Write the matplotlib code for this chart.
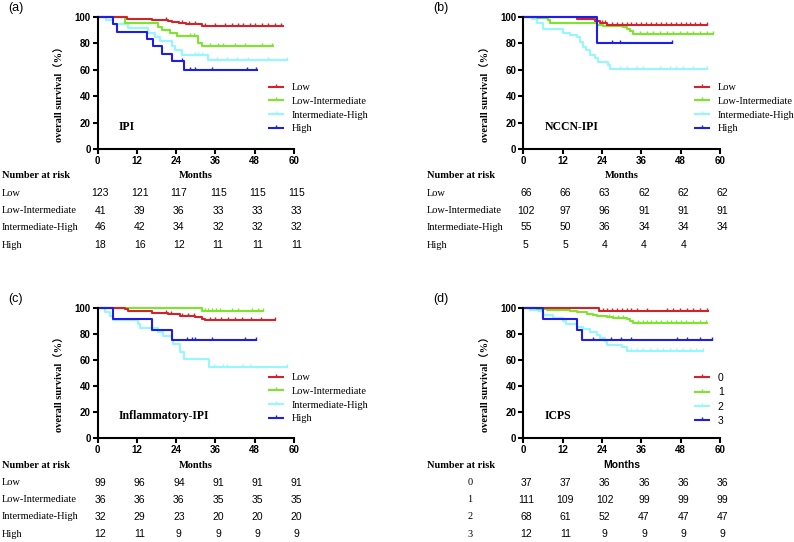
import numpy as np
import matplotlib.pyplot as plt
from matplotlib.lines import Line2D
from matplotlib import transforms

# colores de los grupos (low, low-int, int-high, high)
colors = ['#d2232a', '#7ce62a', '#96f8ff', '#1e1ee6']
group_names = ['Low', 'Low-Intermediate', 'Intermediate-High', 'High']
icps_names = ['0', '1', '2', '3']
risk_months = [0, 12, 24, 36, 48, 60]

# (a) IPI  -- tiempos de los escalones, supervivencia (%), fin de seguimiento, censuras
ipi_low_t = [0, 9, 16.5, 21.5, 22.6, 25, 27, 32]
ipi_low_s = [100, 98.4, 97.6, 96.8, 96.0, 95.2, 94.4, 93.5]
ipi_low_end = 56.5
ipi_low_cens = [21, 25.7, 28, 29.7, 32.8, 36, 38.9, 40.9, 43, 44.5, 46.5, 48.1, 50.1, 52.1, 54.2, 56]
ipi_lowint_t = [0, 8.4, 18.5, 19.6, 22.1, 24.1, 30.7, 31.8]
ipi_lowint_s = [100, 95.1, 92.7, 90.2, 87.8, 85.4, 80.5, 78.0]
ipi_lowint_end = 53.7
ipi_lowint_cens = [28.2, 29.5, 34.3, 36.8, 38.3, 42, 45, 50.1, 53.2]
ipi_inthigh_t = [0, 2.5, 4.8, 9.3, 15.4, 17.5, 19, 22.6, 23.6, 25.7, 33.8]
ipi_inthigh_s = [100, 97.8, 94.6, 91.4, 88.2, 85.0, 81.5, 77.8, 75.1, 71.5, 67.6]
ipi_inthigh_end = 57.8
ipi_inthigh_cens = [29.7, 30.7, 31.8, 36.4, 39.4, 42.5, 46, 52, 57.8]
ipi_high_t = [0, 4.8, 5.8, 15, 17, 19.6, 22.6, 26.5]
ipi_high_s = [100, 94.4, 88.9, 83.3, 77.8, 72.2, 66.7, 60.2]
ipi_high_end = 48.6
ipi_high_cens = [25.7, 28.2, 29.7, 34.8, 45.5, 48.4]
ipi_risk = [[123, 121, 117, 115, 115, 115],
            [41, 39, 36, 33, 33, 33],
            [46, 42, 34, 32, 32, 32],
            [18, 16, 12, 11, 11, 11]]

# (b) NCCN-IPI
nccn_low_t = [0, 16.3, 22, 23.4, 25.4]
nccn_low_s = [100, 98.5, 97.0, 95.5, 93.9]
nccn_low_end = 56
nccn_low_cens = [24, 25, 27, 28.5, 30, 31.5, 33, 34.5, 36, 37.5, 39, 40.5, 42, 43.5, 45, 46.5,
                 48, 49.5, 51, 52.5, 54, 56]
nccn_lowint_t = [0, 4.1, 7.5, 8.1, 22.4, 24.3, 30.4, 31.5, 32.5, 33.6]
nccn_lowint_s = [100, 99.0, 98.0, 95.1, 94.1, 93.1, 92.1, 91.1, 89.1, 87.2]
nccn_lowint_end = 57.8
nccn_lowint_cens = [35.6, 37.6, 39.6, 41.7, 43.7, 45.7, 47.7, 49.8, 51.8, 53.8, 55.9, 57.8]
nccn_inthigh_t = [0, 2.6, 4.1, 6.1, 12.2, 14.2, 16.3, 17.3, 18.3, 19, 20.3, 21.9, 22.9, 25.9, 26.5]
nccn_inthigh_s = [100, 98.2, 95.2, 90.6, 87.6, 86.1, 84.6, 81.3, 77.5, 75, 71.2, 68.7, 66.2, 63.6, 60.4]
nccn_inthigh_end = 56
nccn_inthigh_cens = [29.5, 31.5, 34.6, 36.6, 41.7, 44.7, 46.7, 48.8, 51.8, 56]
nccn_high_t = [0, 22.6]
nccn_high_s = [100, 80]
nccn_high_end = 45.3
nccn_high_cens = [27, 29.5, 45.3]
nccn_risk = [[66, 66, 63, 62, 62, 62],
             [102, 97, 96, 91, 91, 91],
             [55, 50, 36, 34, 34, 34],
             [5, 5, 4, 4, 4]]

# (c) Inflammatory-IPI
infl_low_t = [0, 8.3, 9.4, 16.5, 21.6, 25.2, 29.7, 31.8, 32.8]
infl_low_s = [100, 99, 97.2, 96.1, 95.0, 93.9, 92.8, 91.6, 90.4]
infl_low_end = 54.2
infl_low_cens = [21, 22.5, 25.7, 27.5, 29.5, 34.3, 35.8, 37.8, 39.9, 41.9, 44, 47, 50, 54.2]
infl_lowint_t = [0, 31.8]
infl_lowint_s = [100, 97.2]
infl_lowint_end = 50.6
infl_lowint_cens = [32.8, 33.8, 34.8, 36.3, 37.4, 41, 43, 47.1, 49.1, 50.6]
infl_inthigh_t = [0, 2.2, 3.8, 4.8, 12.4, 12.9, 18.5, 20, 22.6, 23, 25.2, 26.5, 34.1]
infl_inthigh_s = [100, 96.9, 93.8, 90.6, 87.5, 84.4, 81.3, 78.1, 75, 71.9, 66.4, 60.5, 54.8]
infl_inthigh_end = 57.8
infl_inthigh_cens = [35.5, 38.4, 39.4, 44.5, 46.5, 57.8]
infl_high_t = [0, 4.8, 16.5, 22.6]
infl_high_s = [100, 91.7, 83.3, 75]
infl_high_end = 48.4
infl_high_cens = [27.2, 28.7, 29.7, 34.8, 45, 48.4]
infl_risk = [[99, 96, 94, 91, 91, 91],
             [36, 36, 36, 35, 35, 35],
             [32, 29, 23, 20, 20, 20],
             [12, 11, 9, 9, 9, 9]]

# (d) ICPS
icps_0_t = [0, 23.2]
icps_0_s = [100, 97.3]
icps_0_end = 56.2
icps_0_cens = [24.4, 25.4, 27, 28.5, 30, 31.5, 33, 34.6, 37.6, 43.7, 45.7, 47.8, 49.8, 51.8, 53.8, 56]
icps_1_t = [0, 4.1, 7.1, 14.2, 16.3, 19.3, 21.4, 22.4, 25.4, 27.5, 31.5, 32.5, 33.6]
icps_1_s = [100, 99.1, 98.2, 97.3, 96.4, 95.5, 94.6, 93.7, 92.8, 91.9, 91.0, 90.1, 88.3]
icps_1_end = 56
icps_1_cens = [26, 27.5, 29, 30.5, 35.1, 36.6, 37.6, 39.1, 40.6, 42.1, 43.7, 45.2, 46.7, 48.2,
               49.7, 51.8, 53.8, 55.6]
icps_2_t = [0, 2, 4.5, 6.1, 9.2, 12.2, 13, 16.3, 18.3, 20.3, 22.4, 23.4, 24.9, 25.4, 30, 31.5]
icps_2_s = [100, 98.5, 97.1, 94.1, 91.9, 89.7, 87.5, 85.3, 83.8, 81.6, 79.4, 76.5, 74.3, 71.3, 69.6, 66.9]
icps_2_end = 54.9
icps_2_cens = [31.5, 33, 34.6, 36.6, 38.6, 40.7, 42.7, 44.7, 46.7, 48.8, 50.8, 52.8, 54.9]
icps_3_t = [0, 6.1, 16.3, 17.8]
icps_3_s = [100, 91.7, 83.3, 75]
icps_3_end = 57.5
icps_3_cens = [21.2, 26.8, 29.8, 32.9, 46.8, 50, 53.9, 57.5]
icps_risk = [[37, 37, 36, 36, 36, 36],
             [111, 109, 102, 99, 99, 99],
             [68, 61, 52, 47, 47, 47],
             [12, 11, 9, 9, 9, 9]]

W, H = 794, 542
serif = ['Liberation Serif', 'DejaVu Serif']
sans = ['Liberation Sans', 'DejaVu Sans']
# marca de censura: palito hacia arriba desde la curva
tick_up = [(0, 0), (0, 1)]

fig = plt.figure(figsize=(W / 100, H / 100), dpi=100)


def px(x, y):
    # pixeles -> fraccion de figura
    return x / W, 1 - y / H


def draw_panel(left, bottom, width, height, curves, names, title, risk, row_names,
               panel, label_x, centered_rows=False, months_font=serif):
    ax = fig.add_axes([left / W, 1 - bottom / H, width / W, height / H])
    # orden de dibujo: int-high, low-int, low, high
    for k in [2, 1, 0, 3]:
        t, s, end, cens = curves[k]
        xs = list(t) + [end]
        ys = list(s) + [s[-1]]
        ax.step(xs, ys, where='post', color=colors[k], lw=1.5, clip_on=False)
        idx = np.searchsorted(t, cens, side='right') - 1
        ax.plot(cens, np.array(s)[idx], ls='none', marker=tick_up, ms=4.5, mew=1.0,
                color=colors[k], clip_on=False)

    ax.set_xlim(0, 60)
    ax.set_ylim(0, 100)
    ax.set_xticks(risk_months)
    ax.set_yticks([0, 20, 40, 60, 80, 100])
    for side in ['top', 'right']:
        ax.spines[side].set_visible(False)
    for side in ['left', 'bottom']:
        ax.spines[side].set_linewidth(1.5)
    ax.tick_params(length=3.5, width=1.5, pad=1.5)
    for lab in ax.get_xticklabels() + ax.get_yticklabels():
        lab.set_fontfamily(sans)
        lab.set_fontweight('bold')
        lab.set_fontsize(7)

    handles = [Line2D([0], [0], color=c, lw=1.5, marker=tick_up, ms=4.5, mew=1.0) for c in colors]
    leg_font = serif if names[0] == 'Low' else sans
    ax.legend(handles, names, loc='upper left', bbox_to_anchor=(0.873, 0.50), frameon=False,
              borderpad=0, borderaxespad=0, handlelength=1.35, handletextpad=0.85,
              labelspacing=0.42, numpoints=1, prop={'family': leg_font, 'size': 7.5})

    ax.text(0.108, 0.167, title, transform=ax.transAxes, ha='left', va='center',
            fontfamily=serif, fontweight='bold', fontsize=8.5)

    # etiquetas de panel y eje y
    fig.text(*px(8, bottom - height - 8.5), panel, ha='left', va='center',
             fontfamily=sans, fontsize=9)
    fig.text(*px(left - 37.7, bottom - 57), 'overall survival（%）', rotation=90,
             ha='center', va='center', fontfamily=serif + ['Noto Sans CJK SC'],
             fontweight='bold', fontsize=7.5)

    # tabla de numero en riesgo
    blend = transforms.blended_transform_factory(ax.transData, fig.transFigure)
    fig.text(*px(label_x, bottom + 26.7), 'Number at risk', ha='left', va='center',
             fontfamily=serif, fontweight='bold', fontsize=7.5)
    ax.text(30, 1 - (bottom + 26.7) / H, 'Months', transform=blend, ha='center', va='center',
            fontfamily=months_font, fontweight='bold', fontsize=7.5)
    row_offsets = [44.3, 61.5, 78.2, 96]
    for i, row in enumerate(risk):
        yy = bottom + row_offsets[i]
        if centered_rows:
            fig.text(*px(470, yy), row_names[i], ha='center', va='center',
                     fontfamily=serif, fontsize=7.5)
        else:
            fig.text(*px(label_x, yy), row_names[i], ha='left', va='center',
                     fontfamily=serif, fontsize=7.5)
        for m, n in zip(risk_months, row):
            ax.text(m + 0.8, 1 - yy / H, str(n), transform=blend, ha='center', va='center',
                    fontfamily=sans, fontsize=7.5)
    return ax


ipi_curves = [(ipi_low_t, ipi_low_s, ipi_low_end, ipi_low_cens),
              (ipi_lowint_t, ipi_lowint_s, ipi_lowint_end, ipi_lowint_cens),
              (ipi_inthigh_t, ipi_inthigh_s, ipi_inthigh_end, ipi_inthigh_cens),
              (ipi_high_t, ipi_high_s, ipi_high_end, ipi_high_cens)]
nccn_curves = [(nccn_low_t, nccn_low_s, nccn_low_end, nccn_low_cens),
               (nccn_lowint_t, nccn_lowint_s, nccn_lowint_end, nccn_lowint_cens),
               (nccn_inthigh_t, nccn_inthigh_s, nccn_inthigh_end, nccn_inthigh_cens),
               (nccn_high_t, nccn_high_s, nccn_high_end, nccn_high_cens)]
infl_curves = [(infl_low_t, infl_low_s, infl_low_end, infl_low_cens),
               (infl_lowint_t, infl_lowint_s, infl_lowint_end, infl_lowint_cens),
               (infl_inthigh_t, infl_inthigh_s, infl_inthigh_end, infl_inthigh_cens),
               (infl_high_t, infl_high_s, infl_high_end, infl_high_cens)]
icps_curves = [(icps_0_t, icps_0_s, icps_0_end, icps_0_cens),
               (icps_1_t, icps_1_s, icps_1_end, icps_1_cens),
               (icps_2_t, icps_2_s, icps_2_end, icps_2_cens),
               (icps_3_t, icps_3_s, icps_3_end, icps_3_cens)]

draw_panel(97.7, 149, 196.3, 132, ipi_curves, group_names, 'IPI', ipi_risk, group_names,
           '(a)', 2)
draw_panel(523.3, 149, 196.7, 132, nccn_curves, group_names, 'NCCN-IPI', nccn_risk,
           group_names, '(b)', 426.7)
draw_panel(97.7, 438.3, 196.3, 130.6, infl_curves, group_names, 'Inflammatory-IPI', infl_risk,
           group_names, '(c)', 2)
draw_panel(523.3, 438.3, 196.7, 130.6, icps_curves, icps_names, 'ICPS', icps_risk, icps_names,
           '(d)', 426.7, centered_rows=True, months_font=sans)

# las etiquetas (b) y (d) van a la derecha
for t in fig.texts:
    if t.get_text() in ('(b)', '(d)'):
        t.set_x(433 / W)

fig.savefig('out.png', dpi=100)
